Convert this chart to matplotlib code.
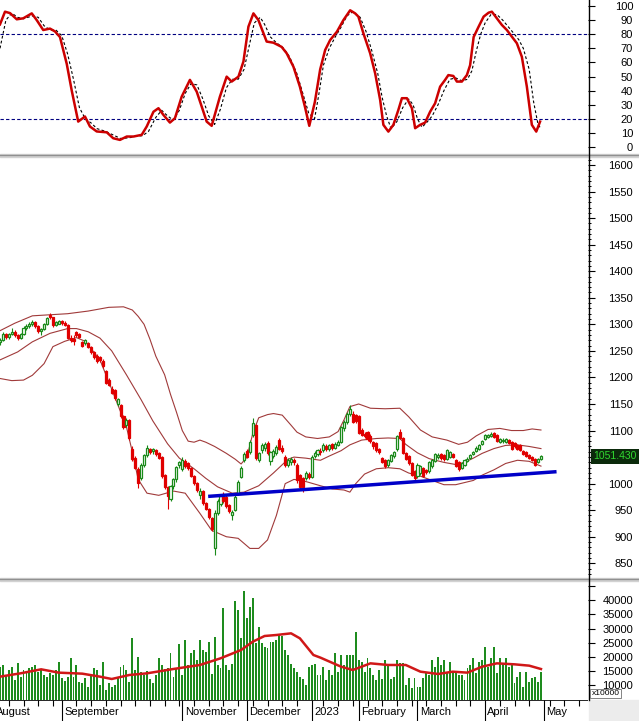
import numpy as np
import matplotlib
matplotlib.use("Agg")
from matplotlib import pyplot as plt
from matplotlib.patches import Rectangle
from matplotlib.lines import Line2D
from matplotlib.transforms import blended_transform_factory

plt.rcParams['font.family'] = ['Liberation Sans', 'DejaVu Sans']

W, H = 639, 721

# trading-day index, 1 Aug 2022 = 0; first visible candle is day 2
first_bar = 2

opens = [
    1266, 1271, 1281, 1276, 1282, 1286, 1279, 1274, 1281, 1294, 1297, 1301, 1304, 1296, 1287, 1291, 1301, 1318, 1313, 1298, 1301,
    1306, 1302, 1299, 1275, 1272, 1285, 1281, 1266, 1264, 1264, 1258, 1248, 1240, 1239, 1230, 1212, 1195, 1179, 1176, 1150,
    1148, 1128, 1110, 1120, 1066, 1048, 1028, 1010, 1036, 1054, 1066, 1062, 1064, 1058, 1050, 1016, 994, 972, 995, 1008, 1035,
    1028, 1042, 1038, 1029, 1014, 1001, 978, 986, 964, 952, 935, 878, 944, 962, 980, 975, 960, 940, 950, 980, 1012, 1044,
    1062, 1060, 1092, 1110, 1045, 1063, 1068, 1076, 1042, 1052, 1058, 1082, 1068, 1050, 1036, 1040, 1044, 1035, 1016, 1010, 1010, 1018,
    1013, 1052, 1056, 1062, 1063, 1070, 1066, 1074, 1068, 1072, 1079, 1104, 1116, 1132, 1132, 1129,
    1128, 1101, 1094, 1098, 1090, 1078, 1076, 1066, 1048, 1045, 1036, 1042, 1052, 1066, 1098, 1085, 1058, 1052, 1038, 1024,
    1014, 1020, 1030, 1026, 1024, 1033, 1042, 1050, 1056, 1054, 1046, 1050, 1056, 1045, 1040, 1030, 1036, 1042, 1048, 1055, 1062, 1066, 1074,
    1084, 1087, 1089, 1096, 1092, 1078, 1080, 1078, 1082, 1079, 1076, 1073, 1072, 1062, 1059, 1054, 1050, 1046, 1040, 1046,
]
highs = [
    1274, 1285, 1284, 1284, 1293, 1289, 1282, 1284, 1296, 1300, 1304, 1308, 1306, 1298, 1294, 1303, 1313, 1322, 1314, 1306, 1309,
    1308, 1306, 1300, 1280, 1279, 1288, 1284, 1268, 1272, 1266, 1260, 1250, 1244, 1241, 1234, 1214, 1198, 1183, 1178, 1162,
    1150, 1130, 1124, 1122, 1070, 1052, 1031, 1038, 1056, 1073, 1068, 1068, 1066, 1060, 1052, 1018, 996, 997, 1010, 1034, 1043,
    1050, 1046, 1040, 1031, 1016, 1004, 992, 988, 966, 954, 938, 950, 972, 980, 984, 978, 962, 950, 978, 1006, 1034, 1060,
    1066, 1082, 1123, 1112, 1060, 1076, 1078, 1080, 1062, 1066, 1072, 1086, 1072, 1054, 1048, 1050, 1048, 1038, 1018, 1012, 1024, 1022,
    1053, 1062, 1066, 1067, 1076, 1074, 1075, 1076, 1078, 1082, 1108, 1120, 1134, 1148, 1136, 1132,
    1130, 1104, 1098, 1100, 1094, 1080, 1078, 1068, 1050, 1047, 1046, 1056, 1062, 1092, 1102, 1087, 1060, 1054, 1040, 1026,
    1038, 1036, 1032, 1028, 1042, 1046, 1058, 1058, 1058, 1056, 1066, 1062, 1058, 1047, 1042, 1040, 1046, 1050, 1056, 1062, 1070, 1074, 1082,
    1093, 1094, 1097, 1098, 1094, 1086, 1085, 1086, 1084, 1081, 1078, 1075, 1074, 1064, 1061, 1056, 1052, 1048, 1049, 1054,
]
lows = [
    1262, 1268, 1272, 1273, 1279, 1277, 1270, 1272, 1280, 1290, 1294, 1297, 1294, 1283, 1280, 1289, 1299, 1310, 1295, 1296, 1300,
    1299, 1296, 1272, 1266, 1262, 1276, 1274, 1257, 1262, 1255, 1244, 1235, 1228, 1229, 1218, 1188, 1184, 1168, 1158, 1146,
    1124, 1102, 1106, 1082, 1042, 1027, 991, 1006, 1032, 1050, 1055, 1056, 1052, 1046, 1011, 990, 953, 968, 990, 1004, 1030,
    1024, 1030, 1026, 1012, 998, 985, 972, 960, 950, 934, 910, 866, 940, 958, 964, 955, 945, 932, 948, 978, 1010, 1040,
    1048, 1056, 1088, 1044, 1040, 1058, 1062, 1054, 1036, 1048, 1054, 1064, 1058, 1032, 1032, 1036, 1036, 1002, 990, 985, 1006, 1008,
    1010, 1048, 1052, 1054, 1060, 1062, 1062, 1064, 1065, 1070, 1076, 1100, 1112, 1128, 1114, 1115,
    1093, 1089, 1085, 1080, 1076, 1066, 1060, 1056, 1038, 1030, 1032, 1040, 1048, 1062, 1084, 1055, 1044, 1036, 1015, 1006,
    1010, 1016, 1012, 1018, 1020, 1030, 1040, 1046, 1045, 1042, 1044, 1048, 1048, 1031, 1024, 1027, 1034, 1040, 1046, 1053, 1060, 1064, 1072,
    1082, 1085, 1087, 1086, 1078, 1076, 1077, 1076, 1074, 1064, 1068, 1064, 1062, 1053, 1050, 1046, 1042, 1034, 1038, 1044,
]
closes = [
    1271, 1281, 1276, 1282, 1286, 1279, 1274, 1281, 1294, 1297, 1301, 1304, 1296, 1287, 1291, 1301, 1311, 1313, 1298, 1304, 1306,
    1302, 1299, 1275, 1270, 1268, 1280, 1276, 1260, 1270, 1258, 1247, 1238, 1231, 1233, 1222, 1190, 1186, 1170, 1161, 1159,
    1127, 1106, 1119, 1086, 1046, 1030, 1002, 1036, 1054, 1068, 1060, 1066, 1055, 1049, 1014, 994, 976, 995, 1008, 1032, 1041,
    1044, 1034, 1029, 1015, 1001, 988, 986, 964, 953, 938, 915, 944, 968, 976, 968, 958, 948, 946, 975, 1004, 1030, 1056,
    1051, 1078, 1114, 1048, 1057, 1073, 1074, 1058, 1060, 1062, 1069, 1066, 1061, 1036, 1044, 1046, 1040, 1006, 993, 994, 1020, 1012,
    1050, 1058, 1063, 1059, 1073, 1066, 1072, 1068, 1075, 1079, 1106, 1117, 1132, 1141, 1117, 1118,
    1096, 1092, 1090, 1084, 1080, 1070, 1064, 1060, 1041, 1033, 1044, 1054, 1060, 1090, 1086, 1058, 1046, 1038, 1017, 1011,
    1036, 1034, 1014, 1022, 1040, 1044, 1056, 1054, 1048, 1046, 1064, 1060, 1050, 1034, 1027, 1038, 1044, 1046, 1054, 1060, 1068, 1072, 1080,
    1091, 1092, 1094, 1088, 1080, 1084, 1082, 1084, 1076, 1066, 1070, 1066, 1064, 1055, 1052, 1048, 1044, 1036, 1047, 1051.43,
]
volumes = [
    16500, 17100, 13500, 15300, 16500, 11800, 17700, 13000, 15300, 15000, 15900, 16500, 17100, 14700, 15300, 13500, 13000, 14100, 13500, 15300, 18000,
    12400, 11400, 13000, 19500, 13000, 17100, 11200, 10600, 12400, 9400, 13500, 15900, 15300, 10000, 18300, 8200, 10600, 9400, 10000, 13000,
    16500, 17100, 15300, 11000, 26500, 15300, 20000, 14700, 13500, 15000, 12000, 10800, 13500, 19400, 17100, 15600, 16000, 21200, 13000, 15900, 24700,
    13500, 26000, 17100, 21500, 22500, 19000, 25900, 22500, 21800, 25300, 14000, 27100, 17200, 16000, 37200, 17000, 15200, 17600, 39800, 36600, 26500, 43200,
    33600, 37800, 40700, 24800, 30700, 24800, 23600, 23000, 25300, 25300, 26000, 27700, 27200, 22400, 20600, 17600, 16000, 14700, 12900, 12000, 9900, 16400,
    17000, 17600, 13500, 13400, 16500, 11800, 15300, 13500, 21200, 14700, 20600, 17100, 20600, 20600, 20600, 28900,
    18900, 18300, 14700, 19500, 16000, 13500, 11800, 15300, 12000, 19000, 17100, 12000, 13000, 18900, 17700, 17700, 10000, 12400, 8800, 12400,
    9400, 9400, 12400, 14700, 13500, 19000, 16500, 20000, 17100, 19000, 14700, 18300, 14700, 14100, 13500, 13500, 11800, 15900, 17100, 19400, 14100, 18300, 19000,
    23600, 16500, 19400, 23600, 14100, 19400, 17700, 19600, 16500, 17100, 10600, 13000, 14700, 9400, 14700, 11200, 12400, 13000, 11000, 14700,
]

# Bollinger bands
bb_upper_x = [2, 7, 13, 19, 25, 32, 39, 44, 47, 49, 51, 53, 55, 58, 60, 62, 64, 66, 68, 70, 72, 75, 79, 82, 84, 86, 88, 90, 93, 95,
              98, 101, 103, 106, 110, 114, 117, 119, 121, 124, 128, 133, 138, 141, 145, 149, 154, 158, 161, 164, 168, 172, 176, 180, 183, 186]
bb_upper = [1288, 1302, 1316, 1318, 1320, 1325, 1332, 1333, 1327, 1315, 1300, 1272, 1240, 1205, 1168, 1135, 1100, 1080, 1078, 1082,
            1078, 1070, 1057, 1046, 1037, 1050, 1095, 1124, 1130, 1132, 1129, 1110, 1097, 1088, 1085, 1088, 1098, 1120, 1145, 1150,
            1142, 1141, 1142, 1126, 1101, 1088, 1082, 1074, 1078, 1090, 1102, 1104, 1100, 1100, 1103, 1101]
bb_mid_x = [2, 8, 13, 19, 25, 28, 32, 36, 40, 45, 50, 54, 59, 63, 68, 72, 76, 81, 85, 90, 95, 100, 102, 106, 111, 114, 118, 121, 125,
            130, 134, 138, 140, 144, 148, 153, 157, 160, 163, 166, 170, 174, 178, 182, 186]
bb_mid = [1233, 1248, 1267, 1283, 1292, 1292, 1286, 1274, 1250, 1205, 1158, 1118, 1075, 1048, 1028, 1010, 994, 982, 984, 996, 1020,
          1046, 1050, 1048, 1044, 1052, 1062, 1073, 1082, 1085, 1086, 1085, 1074, 1058, 1047, 1040, 1036, 1040, 1048, 1057, 1066,
          1072, 1073, 1070, 1066]
bb_lower_x = [2, 6, 10, 13, 17, 20, 24, 28, 31, 36, 40, 45, 47, 49, 52, 56, 61, 65, 70, 74, 79, 83, 87, 90, 93, 96, 99, 102, 106,
              111, 115, 119, 121, 123, 126, 130, 134, 138, 141, 145, 149, 153, 157, 160, 163, 166, 170, 174, 178, 182, 186]
bb_lower = [1198, 1194, 1195, 1204, 1226, 1258, 1268, 1275, 1268, 1233, 1178, 1107, 1060, 1008, 982, 978, 986, 982, 944, 912, 900,
            897, 878, 878, 894, 940, 1000, 1008, 1004, 996, 990, 988, 984, 1000, 1018, 1028, 1030, 1028, 1020, 1014, 1006, 998,
            998, 1002, 1006, 1016, 1026, 1038, 1044, 1042, 1033]

trend_x = [72.8, 191.3]
trend_y = [976, 1022.5]

stoch_k_x = [2, 3.7, 5.4, 7.7, 9.9, 12.8, 14.5, 16.7, 19, 20.7, 22.4, 24.7, 26.4, 28.6, 30.9, 32.6, 34.9, 38.3, 40.5, 42.8, 45.1,
             47.4, 50.2, 51.9, 54.2, 55.9, 57.6, 59.8, 61.5, 63.8, 66.6, 68.9, 70.6, 72.3, 74, 76.8, 79.1, 80.8, 83.1, 84.8, 86.5,
             88.2, 89.9, 91, 92.7, 95, 97.8, 99.5, 101.8, 104, 105.7, 107.2, 109.1, 110.9, 112.6, 114.3, 116.6, 118.8, 121.1,
             122.8, 123.9, 125.6, 127.9, 129.6, 131.3, 132.4, 134.1, 135.8, 137.5, 138.7, 140.4, 142.1, 143.2, 144.9, 146.6,
             148.3, 150, 151.7, 153.4, 154.5, 156.2, 157.4, 159.1, 160.8, 161.9, 163.1, 164.8, 166.5, 168.2, 169.3, 171, 172.7,
             174.4, 176.1, 177.8, 179.5, 181.2, 182.9, 184.4, 185.7]
stoch_k = [87, 96, 95, 90.6, 91.3, 94.8, 90, 83, 84, 82, 78, 59, 40, 18, 21.6, 14.5, 11, 10.4, 6.2, 5, 7.4, 7.4, 8.6, 14.5, 25, 27.5,
           22.7, 17.3, 20.4, 35.7, 47.6, 39.3, 28.7, 18, 15, 35.7, 49.9, 46.4, 49.9, 60.6, 85.4, 94.8, 90, 84, 74.8, 74, 71, 66.5,
           57, 42.8, 28.7, 15, 32, 55, 68.8, 75.9, 81.8, 90, 97, 94.8, 92.5, 80.7, 66.5, 52.3, 33.4, 15.7, 10.9, 15.7, 26.3, 34.6,
           34.6, 27.5, 13.3, 15.7, 17.3, 25, 31, 42.8, 47.6, 51, 50.4, 46.4, 46.4, 51, 58, 78, 85.4, 92.5, 95.3, 96, 91.3, 86.6,
           83, 78.3, 73.6, 64, 42.8, 15.7, 10.9, 18]
stoch_d_x = [2, 4, 6, 8, 10, 13, 15, 17, 19, 21, 23, 25, 27, 29, 31, 33, 35, 38, 41, 43, 46, 48, 50.5, 52.5, 55, 57, 59, 61, 63, 65,
             67, 69, 71, 73, 75, 77, 79, 81, 83, 85, 87, 88.5, 90.5, 92, 94, 96, 98.5, 100.5, 103, 105, 107, 109, 110.5, 112, 114,
             116, 118, 120, 122, 124.5, 126.5, 128.5, 130.5, 132, 133.5, 135, 137, 139, 141, 142.5, 144, 145.5, 147, 149, 151, 153,
             155, 157, 159, 161, 162.5, 164, 165.5, 167, 169, 171, 173, 175, 177, 178.5, 180, 182, 183.5, 185, 186]
stoch_d = [70, 90, 95, 92, 91, 93, 92, 86, 83, 83, 79, 66, 48, 28, 20, 17, 13, 11, 8, 6, 6.5, 7.5, 8, 11, 21, 26, 22, 19, 26, 38, 45,
           44, 34, 22, 16, 27, 42, 48, 48, 55, 74, 88, 92, 87, 78, 74, 70, 64, 52, 38, 24, 20, 38, 58, 70, 78, 85, 93, 96, 92, 82,
           68, 52, 35, 22, 13, 18, 28, 34, 30, 20, 14, 17, 22, 30, 40, 48, 49, 47, 48, 54, 68, 80, 88, 94, 94, 90, 85, 80, 76, 70,
           55, 32, 16, 13]

vol_ma_x = [2, 9, 16, 19, 22, 30, 36, 40, 46, 52, 61, 70, 77, 84, 88, 92, 96, 101, 104, 108.6, 111, 118, 122, 128, 134, 140, 145,
            151, 156, 161, 166, 171, 177, 182, 186]
vol_ma = [12960, 14140, 15560, 14970, 14380, 14020, 12960, 12130, 13550, 14140, 15680, 17100, 19460, 22410, 25370, 27380, 27730,
          28320, 26550, 20640, 19700, 16500, 15320, 17680, 17100, 17100, 14730, 13900, 14730, 14380, 16500, 17680, 17330, 16860,
          15670]

month_names = ["August", "September", "November", "December", "2023", "February", "March", "April", "May"]
month_starts = [0, 23, 64, 86, 108, 124, 144, 167, 187]
week_ticks = [5, 10, 15, 20, 28, 33, 38, 43, 48, 53, 58, 63, 68, 73, 78, 83, 88, 93, 98, 103, 112, 117, 122, 127, 132, 137,
              142, 147, 152, 157, 162, 172, 177, 182, 189, 194, 199]

bars = np.arange(first_bar, first_bar + len(closes))
o = np.array(opens, dtype=float)
c = np.array(closes, dtype=float)


def px_box(x0, y0, x1, y1):
    return [x0 / W, 1 - y1 / H, (x1 - x0) / W, (y1 - y0) / H]


fig = plt.figure(figsize=(W / 100, H / 100), dpi=100)
fig.patch.set_facecolor('white')
ax_st = fig.add_axes(px_box(0, 0, 588, 154))
ax_pr = fig.add_axes(px_box(0, 157, 588, 578))
ax_vo = fig.add_axes(px_box(0, 581, 588, 700))
ax_x = fig.add_axes(px_box(0, 700, 588, 721))

for ax in (ax_st, ax_pr, ax_vo, ax_x):
    ax.set_xlim(2.0, 202.0)
    for s in ax.spines.values():
        s.set_visible(False)
    ax.set_xticks([])
    ax.tick_params(axis='y', left=False, labelleft=False)


def right_axis(ax, ticks, labels, minor=None):
    ax.yaxis.tick_right()
    ax.set_yticks(ticks)
    ax.set_yticklabels(labels, ha='right')
    ax.tick_params(axis='y', which='major', direction='out', length=5, width=0.8,
                   pad=27.5, labelsize=8, right=True, labelright=True, left=False)
    if minor is not None:
        ax.set_yticks(minor, minor=True)
        ax.tick_params(axis='y', which='minor', direction='out', length=2.5, width=0.7, right=True, left=False)


# stochastic
ax_st.set_ylim(-5, 104.3)
ax_st.axhline(20, color='#000080', lw=0.8, ls=(0, (3, 2)))
ax_st.axhline(80, color='#000080', lw=0.8, ls=(0, (3, 2)))
ax_st.plot(stoch_d_x, stoch_d, color='black', lw=0.8, ls=(0, (2.5, 2)))
ax_st.plot(stoch_k_x, stoch_k, color='#cc0000', lw=1.8)
right_axis(ax_st, list(range(0, 101, 10)), [str(v) for v in range(0, 101, 10)])

# price
ax_pr.set_ylim(822.3, 1615.1)
ax_pr.plot(bb_upper_x, bb_upper, color='#a03a3a', lw=0.8, zorder=2)
ax_pr.plot(bb_mid_x, bb_mid, color='#a03a3a', lw=0.8, zorder=2)
ax_pr.plot(bb_lower_x, bb_lower, color='#a03a3a', lw=0.8, zorder=2)
up = c >= o
edge = np.where(up, '#1a8a1a', '#e00000')
face = np.where(up, 'white', '#e00000')
ax_pr.vlines(bars, lows, highs, colors=edge, lw=0.8, zorder=3)
ax_pr.bar(bars, np.maximum(np.abs(c - o), 1.2), bottom=np.minimum(o, c), width=0.7,
          color=face, edgecolor=edge, linewidth=0.9, zorder=4)
ax_pr.plot(trend_x, trend_y, color='#0000c8', lw=2.5, zorder=5, solid_capstyle='butt')
pt = list(range(850, 1601, 50))
# the 1050 label sits under the last-price box
right_axis(ax_pr, pt, [str(v) if v != 1050 else '' for v in pt], minor=list(range(830, 1611, 10)))

tr = blended_transform_factory(fig.transFigure, ax_pr.transData)
ax_pr.text(615 / W, closes[-1], f"{closes[-1]:.3f}", transform=tr, ha='center', va='center',
           fontsize=7.5, color='#30d830', clip_on=False, zorder=10,
           bbox=dict(boxstyle='square,pad=0.22', fc='#0b2a0b', ec='none'))

# volume
ax_vo.set_ylim(4681, 46879)
ax_vo.bar(bars, volumes, width=0.65, color='#1e8c1e', zorder=2)
ax_vo.plot(vol_ma_x, vol_ma, color='#d01818', lw=1.8, zorder=3)
vt = list(range(10000, 45001, 5000))
right_axis(ax_vo, vt, [str(v) if v < 45000 else '' for v in vt])
fig.text(605.5 / W, 1 - 693.5 / H, 'x10000', fontsize=6, ha='center', va='center',
         bbox=dict(boxstyle='square,pad=0.15', fc='white', ec='#707070', lw=0.6))

# month strip
ax_x.set_ylim(0, 1)
ax_x.axhline(1, color='black', lw=1.2)
ax_x.vlines(month_starts, 0, 1, color='black', lw=0.8)
ax_x.vlines(week_ticks, 0.72, 1, color='black', lw=0.8)
for m, name in zip(month_starts, month_names):
    ax_x.text(m + 0.8, 0.42, name, fontsize=8, ha='left', va='center', clip_on=True)

# separators, axis line and corner
for y0 in (154, 578):
    fig.patches.append(Rectangle((0, 1 - (y0 + 3) / H), 1, 3 / H, transform=fig.transFigure,
                                 color='#d2d2d2', zorder=1))
    fig.add_artist(Line2D([0, 1], [1 - (y0 + 0.5) / H] * 2, color='#909090', lw=1))
fig.add_artist(Line2D([588.5 / W] * 2, [1, 1 - 700 / H], color='black', lw=1))
fig.patches.append(Rectangle((589 / W, 0), 50 / W, 21 / H, transform=fig.transFigure, color='#ececec'))

fig.savefig('out.png', dpi=100)
